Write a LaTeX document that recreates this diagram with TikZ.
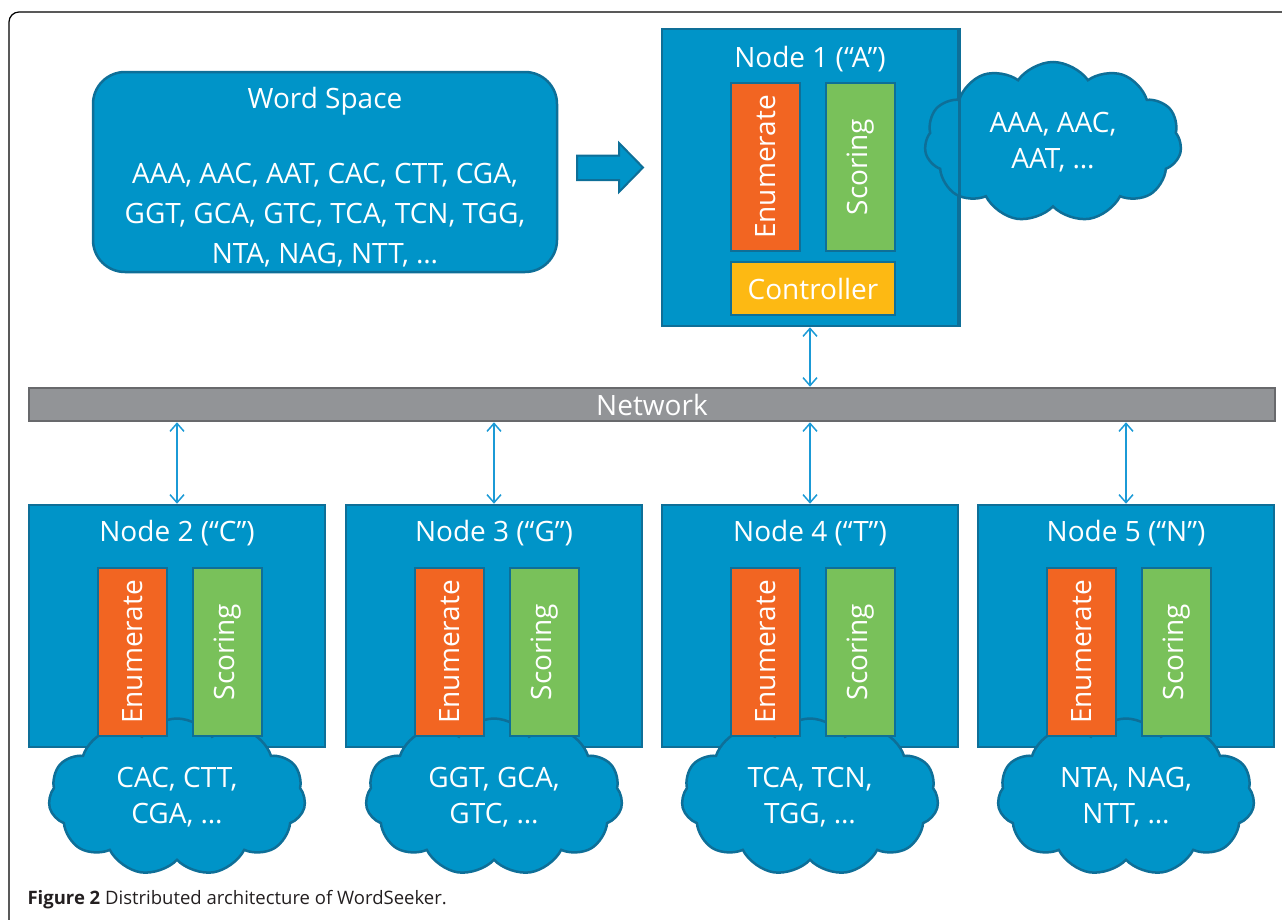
\documentclass[tikz,border=0pt]{standalone}
\usepackage{fontspec}
\setmainfont{Open Sans}
\usetikzlibrary{arrows.meta,shapes.symbols}
\definecolor{boxblue}{HTML}{0094C8}
\definecolor{boxline}{HTML}{0E6F98}
\definecolor{enumorange}{HTML}{F26522}
\definecolor{scoregreen}{HTML}{79C15A}
\definecolor{ctrlyellow}{HTML}{FDB913}
\definecolor{netgray}{HTML}{929497}
\definecolor{netline}{HTML}{68696C}
\definecolor{linkblue}{HTML}{1B9AD6}
\definecolor{capgray}{HTML}{231F20}

\begin{document}
\begin{tikzpicture}[x=1pt, y=-1pt, >={Straight Barb[length=8pt,width=14pt]}, line width=2.5pt,
  font=\fontsize{28}{36}\selectfont, text=white,
  nodebox/.style={draw=boxline, fill=boxblue, minimum width=296pt, minimum height=242pt, inner sep=0pt},
  procbox/.style={draw=boxline, rotate=90, minimum width=168pt, minimum height=69pt, inner sep=0pt},
  cloudbox/.style={cloud, cloud puffs=11, cloud puff arc=110, aspect=1.6, draw=boxline, fill=boxblue,
    minimum width=257pt, minimum height=157pt, inner sep=0pt, align=center},
  link/.style={linkblue, line width=1.5pt, <->}]
  \useasboundingbox (0,0) rectangle (1282,919);
  \draw[black, line width=1.2pt, rounded corners=10pt] (1290,12) -- (9,12) -- (9,930);

  \node[draw=boxline, fill=boxblue, rounded corners=32pt, minimum width=464pt, minimum height=200pt] (ws) at (325,172) {};
  \node (wst) at (325,101) {Word Space};
  \node[align=center, font=\fontsize{28}{40}\selectfont] (wsl) at (325,215)
    {AAA, AAC, AAT, CAC, CTT, CGA,\\GGT, GCA, GTC, TCA, TCN, TGG,\\NTA, NAG, NTT, …};
  \draw[boxline, fill=boxblue, line width=2pt] (577,155.5) -- (619,155.5) -- (619,143) -- (643,167.5)
    -- (619,192) -- (619,180) -- (577,180) -- cycle;

  \node[nodebox, minimum height=297pt] (n1) at (810,177.5) {};
  \node[cloudbox, minimum height=160pt] (c1) at (1053,142) {AAA, AAC,\\AAT, …};
  \draw[boxline] (n1.north east) -- (n1.south east);
  \node (n1t) at (810,59) {Node 1 (“A”)};
  \node[procbox, fill=enumorange] (e1) at (765.5,167) {Enumerate};
  \node[procbox, fill=scoregreen] (s1) at (860.5,167) {Scoring};
  \node[draw=boxline, fill=ctrlyellow, minimum width=164pt, minimum height=53pt, inner sep=0pt] (k1) at (813,288.5) {Controller};

  \node[draw=netline, fill=netgray, minimum width=1246pt, minimum height=33pt, inner sep=0pt] (net) at (652,404.5) {Network};

  \node[nodebox] (n2) at (177,626) {};
  \node[cloudbox] (c2) at (177,797) {CAC, CTT,\\CGA, …};
  \node (n2t) at (177,533) {Node 2 (“C”)};
  \node[procbox, fill=enumorange] (e2) at (132.5,652) {Enumerate};
  \node[procbox, fill=scoregreen] (s2) at (227.5,652) {Scoring};

  \node[nodebox] (n3) at (494,626) {};
  \node[cloudbox] (c3) at (494,797) {GGT, GCA,\\GTC, …};
  \node (n3t) at (494,533) {Node 3 (“G”)};
  \node[procbox, fill=enumorange] (e3) at (449.5,652) {Enumerate};
  \node[procbox, fill=scoregreen] (s3) at (544.5,652) {Scoring};

  \node[nodebox] (n4) at (810,626) {};
  \node[cloudbox] (c4) at (810,797) {TCA, TCN,\\TGG, …};
  \node (n4t) at (810,533) {Node 4 (“T”)};
  \node[procbox, fill=enumorange] (e4) at (765.5,652) {Enumerate};
  \node[procbox, fill=scoregreen] (s4) at (860.5,652) {Scoring};

  \node[nodebox] (n5) at (1126,626) {};
  \node[cloudbox] (c5) at (1126,797) {NTA, NAG,\\NTT, …};
  \node (n5t) at (1126,533) {Node 5 (“N”)};
  \node[procbox, fill=enumorange] (e5) at (1081.5,652) {Enumerate};
  \node[procbox, fill=scoregreen] (s5) at (1176.5,652) {Scoring};

  \draw[link] (n1.south) -- (net.north -| n1.south);
  \draw[link] (net.south -| n2.north) -- (n2.north);
  \draw[link] (net.south -| n3.north) -- (n3.north);
  \draw[link] (net.south -| n4.north) -- (n4.north);
  \draw[link] (net.south -| n5.north) -- (n5.north);

  \node[anchor=west, text=capgray, font=\fontsize{18.5}{22}\selectfont] (cap) at (23,900)
    {\textbf{Figure 2} Distributed architecture of WordSeeker.};
\end{tikzpicture}
\end{document}
